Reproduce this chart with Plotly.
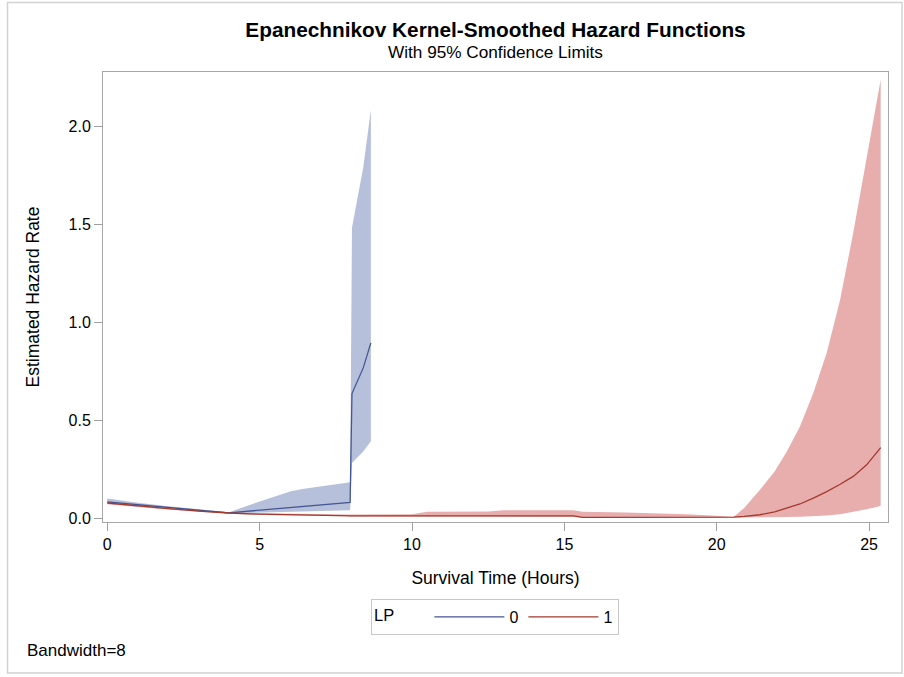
import plotly.graph_objects as go

# ---- data ----
# LP = 0
t0 = [0, 1, 2, 3, 4, 5, 5.55, 6, 6.4, 7.1, 7.97, 8.03, 8.4, 8.65]
h0 = [0.083, 0.068, 0.053, 0.040, 0.027, 0.040, 0.048, 0.055, 0.060, 0.068, 0.080, 0.636, 0.767, 0.895]
lo0 = [0.074, 0.061, 0.048, 0.036, 0.024, 0.030, 0.032, 0.034, 0.035, 0.037, 0.040, 0.281, 0.340, 0.392]
hi0 = [0.100, 0.078, 0.060, 0.044, 0.030, 0.085, 0.112, 0.136, 0.148, 0.164, 0.183, 1.483, 1.790, 2.084]

# LP = 1
t1 = [0, 1, 2, 3, 4, 5, 6, 7, 7.8, 8.0, 10.0, 10.5, 12.5, 13.0, 15.3, 15.6, 17.0, 19.0, 20.0,
      20.55, 20.9, 21.42, 21.9, 22.3, 22.73, 23.17, 23.61, 24.05, 24.48, 24.92, 25.25, 25.38]
h1 = [0.077, 0.062, 0.048, 0.036, 0.026, 0.020, 0.017, 0.016, 0.015, 0.011, 0.011, 0.011, 0.011,
      0.011, 0.011, 0.004, 0.004, 0.004, 0.004, 0.005, 0.009, 0.017, 0.032, 0.051, 0.072, 0.102,
      0.135, 0.173, 0.213, 0.272, 0.335, 0.360]
lo1 = [0.071, 0.057, 0.044, 0.032, 0.022, 0.016, 0.013, 0.012, 0.011, 0.008, 0.008, 0.007, 0.007,
       0.006, 0.006, 0.002, 0.002, 0.002, 0.002, 0.003, 0.003, 0.004, 0.004, 0.005, 0.007, 0.009,
       0.013, 0.020, 0.034, 0.045, 0.056, 0.063]
hi1 = [0.084, 0.068, 0.053, 0.040, 0.030, 0.025, 0.022, 0.021, 0.020, 0.018, 0.020, 0.032, 0.033,
       0.040, 0.040, 0.032, 0.028, 0.020, 0.012, 0.006, 0.051, 0.145, 0.238, 0.340, 0.468, 0.639,
       0.844, 1.116, 1.457, 1.832, 2.120, 2.240]

x_ticks = [0, 5, 10, 15, 20, 25]
y_ticks = [0.0, 0.5, 1.0, 1.5, 2.0]
y_tick_labels = ["0.0", "0.5", "1.0", "1.5", "2.0"]

BLUE_LINE = "#445694"
BLUE_FILL = "#B7C0DB"
RED_LINE = "#A23A2E"
RED_FILL = "#E8AEAE"
FONT = "Arial, Liberation Sans, sans-serif"

fig = go.Figure()


def band(t, lo, hi, color):
    return go.Scatter(
        x=list(t) + list(t)[::-1],
        y=list(hi) + list(lo)[::-1],
        fill="toself", fillcolor=color, mode="lines",
        line=dict(width=0, color=color), showlegend=False, hoverinfo="skip",
    )


fig.add_trace(band(t0, lo0, hi0, BLUE_FILL))
fig.add_trace(band(t1, lo1, hi1, RED_FILL))
fig.add_trace(go.Scatter(x=t0, y=h0, mode="lines", name="0",
                         line=dict(color=BLUE_LINE, width=1.3)))
fig.add_trace(go.Scatter(x=t1, y=h1, mode="lines", name="1",
                         line=dict(color=RED_LINE, width=1.3)))

L, R, T, B = 103, 16, 72, 155
W, H = 904, 677
pw, ph = W - L - R, H - T - B


def px_x(p):
    return (p - L) / pw


def px_y(p):
    return (H - B - p) / ph


fig.update_layout(
    width=W, height=H,
    margin=dict(l=L, r=R, t=T, b=B),
    paper_bgcolor="white", plot_bgcolor="white",
    font=dict(family=FONT, size=16, color="#000000"),
    title=dict(text="<b>Epanechnikov Kernel-Smoothed Hazard Functions</b>",
               x=0.5, xref="paper", xanchor="center",
               y=1 - 30 / H, yanchor="middle", yref="container",
               font=dict(family=FONT, size=20.8, color="#000000")),
    showlegend=True,
    legend=dict(orientation="h", x=px_x(495), xanchor="center",
                y=px_y(599), yanchor="top", valign="middle",
                title=dict(text="LP      ", font=dict(size=16.5)),
                font=dict(size=16), bordercolor="#C8C8C8", borderwidth=1,
                bgcolor="white", itemwidth=70, tracegroupgap=0),
    xaxis=dict(range=[-0.14, 25.62], tickvals=x_ticks, ticks="outside", ticklen=8,
               tickcolor="#A0A0A0", showline=True, linecolor="#A8A8A8", linewidth=1,
               mirror=True, showgrid=False, zeroline=False,
               tickfont=dict(size=16),
               title=dict(text="Survival Time (Hours)", font=dict(size=17.5), standoff=19)),
    yaxis=dict(range=[-0.02, 2.278], tickvals=y_ticks, ticktext=y_tick_labels,
               ticks="outside", ticklen=8, tickcolor="#A0A0A0", showline=True,
               linecolor="#A8A8A8", linewidth=1, mirror=True, showgrid=False,
               zeroline=False, tickfont=dict(size=16),
               title=dict(text="Estimated Hazard Rate", font=dict(size=17.5), standoff=24)),
    annotations=[
        dict(text="With 95% Confidence Limits", xref="paper", yref="paper",
             x=0.5, y=px_y(52), xanchor="center", yanchor="middle", showarrow=False,
             font=dict(family=FONT, size=17.2)),
        dict(text="Bandwidth=8", xref="paper", yref="paper",
             x=px_x(25), y=px_y(650), xanchor="left", yanchor="middle", showarrow=False,
             font=dict(family=FONT, size=17)),
    ],
    shapes=[
        dict(type="rect", xref="paper", yref="paper",
             x0=px_x(7.5), x1=px_x(902), y0=px_y(673), y1=px_y(2.5),
             line=dict(color="#D2D2D2", width=1.5), fillcolor="rgba(0,0,0,0)", layer="below"),
    ],
)

fig.write_html("out.html")
